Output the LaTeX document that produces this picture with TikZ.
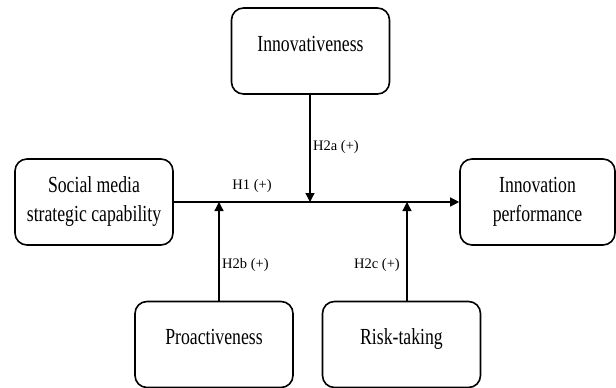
\documentclass[tikz,border=0pt]{standalone}
\usepackage{fontspec}
\setmainfont{Liberation Serif}
\newfontfamily\boxfont{Liberation Serif}[FakeStretch=0.77]
\usetikzlibrary{arrows.meta}

\tikzset{
    factor/.style={draw, line width=1.6pt, rounded corners=12pt, minimum width=158pt, minimum height=86pt,
        inner sep=0pt, align=center, font=\boxfont\fontsize{23}{29}\selectfont},
    oneline/.style={text height=15pt, text depth=15pt},
    link/.style={line width=1.3pt, -{Triangle[length=9pt,width=9pt]}},
    hyp/.style={inner sep=0pt, font=\fontsize{14.5}{17}\selectfont}
}

\begin{document}
\begin{tikzpicture}[x=1pt, y=-1pt]
    \useasboundingbox (0,0) rectangle (616,388);

    % constructs
    \node[factor] (smsc) at (94,202) {Social media\\strategic capability};
    \node[factor, minimum width=155pt] (perf) at (537.5,202) {Innovation\\performance};
    \node[factor, oneline] (innov) at (310.5,51) {Innovativeness};
    \node[factor, oneline] (proact) at (214,344.5) {Proactiveness};
    \node[factor, oneline] (risk) at (401.5,344.5) {Risk-taking};

    % points where the moderators meet the main path
    \coordinate (m2a) at (310,202);
    \coordinate (m2b) at (219,202);
    \coordinate (m2c) at (407,202);

    \draw[link] (smsc.east) -- (perf.west);
    \draw[link] (innov.south -| m2a) -- (m2a);
    \draw[link] (proact.north -| m2b) -- (m2b);
    \draw[link] (risk.north -| m2c) -- (m2c);

    \node[hyp, anchor=base] (h1) at (252,189) {H1 (+)};
    \node[hyp, anchor=base west] (h2a) at (313,150) {H2a (+)};
    \node[hyp, anchor=base west] (h2b) at (222,268) {H2b (+)};
    \node[hyp, anchor=base east] (h2c) at (400,268) {H2c (+)};
\end{tikzpicture}
\end{document}
